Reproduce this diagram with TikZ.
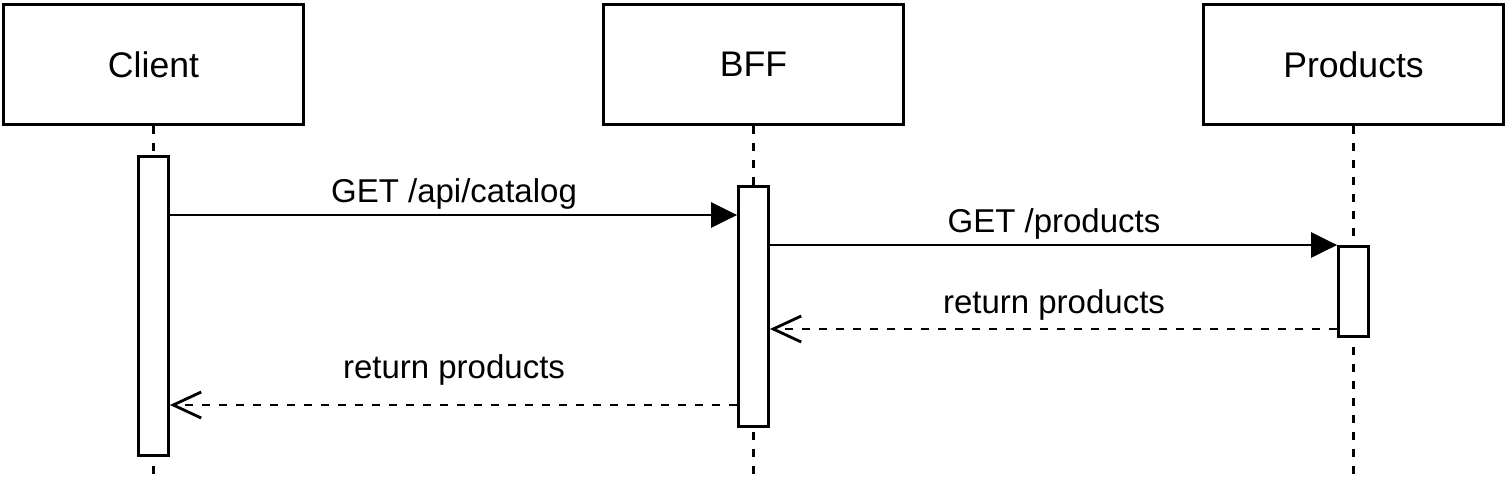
\documentclass[tikz,border=0pt]{standalone}
\usepackage{fontspec}
\setmainfont{Liberation Sans}
\usetikzlibrary{arrows.meta,calc}
\begin{document}
\begin{tikzpicture}[x=1pt,y=-1pt,
  lw/.style={line width=2.8pt},
  participant/.style={draw,lw,fill=white,minimum width=300pt,minimum height=120pt,inner sep=0pt,
    font=\fontsize{35.6}{42}\selectfont},
  activation/.style={draw,lw,fill=white,minimum width=30pt,inner sep=0pt,anchor=north},
  lifeline/.style={lw,dash pattern=on 8.5pt off 8.5pt},
  call/.style={lw,-{Triangle[length=26pt,width=25pt]}},
  reply/.style={lw,dash pattern=on 8.5pt off 8.5pt,-{Straight Barb[length=28pt,width=26pt,line width=2.8pt]}},
  msglabel/.style={anchor=base,inner sep=0pt,font=\fontsize{33}{40}\selectfont}]
\useasboundingbox (0,0) rectangle (1509,480);
% participants
\node[participant] (client) at (153.5,64.5) {Client};
\node[participant] (bff) at (753.5,64.5) {BFF};
\node[participant] (prod) at (1353.5,64.5) {Products};
% lifeline ends
\coordinate (clientEnd) at (153.5,476);
\coordinate (bffEnd) at (753.5,476);
\coordinate (prodEnd) at (1353.5,476);
\draw[lifeline] (client.south) -- (clientEnd);
\draw[lifeline] (bff.south) -- (bffEnd);
\draw[lifeline] (prod.south) -- (prodEnd);
% activations
\node[activation,minimum height=299pt] (ca) at (153.5,155) {};
\node[activation,minimum height=240pt] (ba) at (753.5,185) {};
\node[activation,minimum height=90pt] (pa) at (1353.5,245) {};
% messages
\draw[call] ($(ca.north east)+(0,60)$) -- ($(ba.north west)+(0,30)$);
\draw[call] ($(ba.north east)+(0,60)$) -- ($(pa.north west)+(0,0)$);
\draw[reply] ($(pa.north west)+(0,84)$) -- ($(ba.north east)+(0,144)$);
\draw[reply] ($(ba.north west)+(0,220)$) -- ($(ca.north east)+(0,250)$);
% labels
\node[msglabel] (l1) at (454,202) {GET /api/catalog};
\node[msglabel] (l2) at (1054,232) {GET /products};
\node[msglabel] (l3) at (1054,313) {return products};
\node[msglabel] (l4) at (454,378) {return products};
\end{tikzpicture}
\end{document}
